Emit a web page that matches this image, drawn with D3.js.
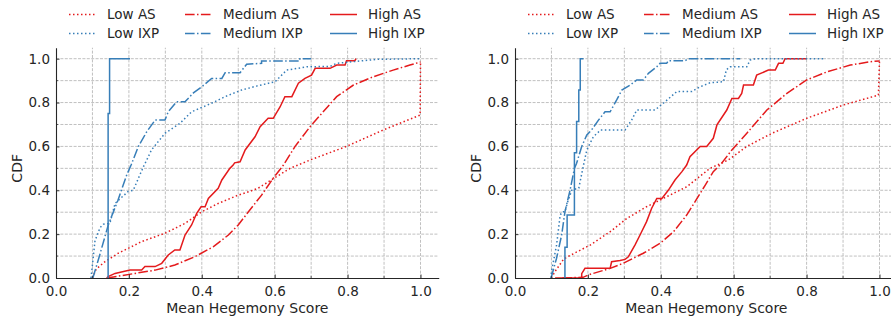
<!DOCTYPE html>
<html><head><meta charset="utf-8">
<script src="https://cdn.jsdelivr.net/npm/d3@7"></script>
<style>body{margin:0;background:#fff}svg{display:block}text{font-family:"DejaVu Sans",sans-serif;fill:#262626}</style>
</head><body><svg id="c" width="891" height="320"></svg>
<script>
// ---- data ----
const xTicks = [0, 0.2, 0.4, 0.6, 0.8, 1.0];
const yTicks = [0, 0.2, 0.4, 0.6, 0.8, 1.0];
const gridVals = [0.1,0.2,0.3,0.4,0.5,0.6,0.7,0.8,0.9,1.0];
const seriesNames = ["Low AS","Medium AS","High AS","Low IXP","Medium IXP","High IXP"];

// Left panel
const L_lowAS = [[0.1,0],[0.11,0.04],[0.134,0.074],[0.171,0.113],[0.235,0.166],[0.299,0.204],[0.354,0.249],[0.4,0.302],[0.445,0.34],[0.5,0.378],[0.532,0.395],[0.555,0.41],[0.605,0.462],[0.642,0.5],[0.697,0.538],[0.797,0.6],[0.898,0.675],[0.999,0.743],[1.0,0.986]];
const L_medAS = [[0.14,0],[0.162,0.006],[0.217,0.021],[0.272,0.036],[0.326,0.059],[0.381,0.097],[0.432,0.143],[0.473,0.196],[0.5,0.242],[0.528,0.302],[0.564,0.378],[0.596,0.455],[0.624,0.515],[0.656,0.6],[0.697,0.69],[0.733,0.758],[0.77,0.827],[0.816,0.88],[0.871,0.918],[0.925,0.948],[0.971,0.971],[1.0,0.985]];
const L_highAS = [[0.139,0],[0.143,0.006],[0.162,0.021],[0.203,0.036],[0.235,0.036],[0.244,0.052],[0.272,0.052],[0.29,0.067],[0.308,0.105],[0.326,0.128],[0.34,0.128],[0.354,0.196],[0.372,0.242],[0.386,0.295],[0.398,0.325],[0.409,0.325],[0.418,0.363],[0.445,0.409],[0.455,0.447],[0.477,0.5],[0.486,0.515],[0.49,0.525],[0.505,0.53],[0.519,0.584],[0.546,0.644],[0.56,0.69],[0.582,0.728],[0.596,0.728],[0.615,0.781],[0.628,0.827],[0.647,0.827],[0.665,0.888],[0.683,0.91],[0.701,0.925],[0.711,0.956],[0.752,0.956],[0.77,0.971],[0.793,0.971],[0.797,0.991],[0.82,0.991],[0.823,1.0]];
const L_lowIXP = [[0.096,0],[0.1,0.06],[0.107,0.17],[0.121,0.23],[0.13,0.245],[0.148,0.25],[0.162,0.34],[0.198,0.395],[0.212,0.4],[0.23,0.47],[0.242,0.515],[0.249,0.538],[0.262,0.584],[0.299,0.66],[0.34,0.705],[0.372,0.758],[0.427,0.797],[0.464,0.827],[0.509,0.857],[0.55,0.875],[0.601,0.895],[0.633,0.948],[0.688,0.963],[0.752,0.965],[0.77,0.979],[0.88,0.997],[1.0,1.0]];
const L_medIXP = [[0.1,0],[0.102,0.005],[0.12,0.105],[0.143,0.24],[0.17,0.355],[0.194,0.47],[0.206,0.515],[0.226,0.6],[0.249,0.667],[0.272,0.72],[0.299,0.72],[0.308,0.758],[0.331,0.804],[0.354,0.804],[0.377,0.844],[0.4,0.872],[0.427,0.91],[0.455,0.91],[0.464,0.936],[0.505,0.936],[0.523,0.975],[0.564,0.979],[0.564,0.99],[0.669,0.99],[0.669,1.0],[0.70,1.0]];
const L_highIXP = [[0.143,0],[0.143,0.75],[0.147,0.75],[0.147,1.0],[0.203,1.0]];

// Right panel
const R_lowAS = [[0.1,0],[0.11,0.03],[0.133,0.085],[0.142,0.095],[0.206,0.15],[0.261,0.211],[0.307,0.272],[0.361,0.325],[0.407,0.363],[0.471,0.416],[0.535,0.5],[0.585,0.538],[0.636,0.6],[0.705,0.66],[0.8,0.728],[0.901,0.789],[0.997,0.834],[1.0,0.99]];
const R_medAS = [[0.13,0],[0.187,0.003],[0.201,0.014],[0.261,0.044],[0.297,0.067],[0.352,0.113],[0.398,0.158],[0.435,0.211],[0.471,0.287],[0.494,0.348],[0.522,0.424],[0.544,0.485],[0.567,0.523],[0.595,0.584],[0.636,0.66],[0.691,0.766],[0.746,0.842],[0.8,0.903],[0.856,0.94],[0.92,0.971],[0.974,0.986],[1.0,0.99]];
const R_highAS = [[0.11,0],[0.183,0],[0.183,0.02],[0.192,0.044],[0.261,0.044],[0.265,0.074],[0.288,0.08],[0.302,0.085],[0.311,0.097],[0.329,0.15],[0.343,0.196],[0.361,0.257],[0.375,0.318],[0.389,0.363],[0.403,0.363],[0.421,0.401],[0.439,0.447],[0.458,0.485],[0.471,0.515],[0.48,0.553],[0.508,0.6],[0.526,0.6],[0.544,0.637],[0.554,0.698],[0.581,0.766],[0.595,0.819],[0.613,0.819],[0.622,0.842],[0.627,0.88],[0.654,0.88],[0.663,0.925],[0.695,0.948],[0.714,0.948],[0.723,0.979],[0.735,0.979],[0.741,1.0],[0.8,1.0]];
const R_lowIXP = [[0.099,0],[0.1,0.029],[0.114,0.15],[0.124,0.287],[0.13,0.302],[0.137,0.302],[0.145,0.35],[0.156,0.401],[0.175,0.41],[0.188,0.515],[0.197,0.584],[0.215,0.644],[0.235,0.675],[0.302,0.675],[0.32,0.72],[0.334,0.766],[0.384,0.766],[0.407,0.797],[0.444,0.85],[0.485,0.85],[0.508,0.872],[0.535,0.89],[0.572,0.895],[0.58,0.95],[0.59,0.963],[0.636,0.963],[0.645,0.994],[0.66,1.0],[0.851,1.0]];
const R_medIXP = [[0.1,0],[0.1,0.006],[0.114,0.09],[0.128,0.196],[0.137,0.302],[0.151,0.4],[0.163,0.5],[0.169,0.523],[0.183,0.6],[0.197,0.652],[0.21,0.675],[0.229,0.72],[0.247,0.758],[0.261,0.758],[0.279,0.812],[0.293,0.857],[0.316,0.88],[0.334,0.903],[0.352,0.903],[0.366,0.933],[0.389,0.963],[0.398,0.979],[0.416,0.979],[0.421,0.991],[0.467,0.991],[0.475,1.0],[0.618,1.0]];
const R_highIXP = [[0.137,0],[0.137,0.14],[0.143,0.14],[0.143,0.287],[0.163,0.287],[0.163,0.571],[0.169,0.571],[0.169,0.714],[0.175,0.714],[0.175,0.857],[0.179,0.857],[0.179,1.0],[0.188,1.0]];

// ---- drawing ----
const RED = "#e41a1c", BLUE = "#377eb8";
const styles = [
  {color: RED, dash: "1.5,2.5"},
  {color: RED, dash: "9.6,2.4,1.5,2.4"},
  {color: RED, dash: null},
  {color: BLUE, dash: "1.5,2.5"},
  {color: BLUE, dash: "9.6,2.4,1.5,2.4"},
  {color: BLUE, dash: null}
];
const svg = d3.select("#c");

function panel(left, data) {
  const unitX = 364.5, unitY = 219.3, y0 = 278;
  const x = d3.scaleLinear().domain([0, 1.05]).range([left, left + 1.05 * unitX]);
  const y = d3.scaleLinear().domain([0, 1.05]).range([y0, y0 - 1.05 * unitY]);
  const g = svg.append("g");
  // grid
  g.selectAll(".gx").data(gridVals).join("line")
    .attr("x1", d => x(d)).attr("x2", d => x(d)).attr("y1", y(0)).attr("y2", y(1.05))
    .attr("stroke", "#b0b0b0").attr("stroke-width", 0.8).attr("stroke-dasharray", "3,1.4");
  g.selectAll(".gy").data(gridVals).join("line")
    .attr("y1", d => y(d)).attr("y2", d => y(d)).attr("x1", x(0)).attr("x2", x(1.05))
    .attr("stroke", "#b0b0b0").attr("stroke-width", 0.8).attr("stroke-dasharray", "3,1.4");
  // lines
  const line = d3.line().x(d => x(d[0])).y(d => y(d[1]));
  data.forEach((s, i) => {
    g.append("path").attr("d", line(s)).attr("fill", "none")
      .attr("stroke", styles[i].color).attr("stroke-width", 1.5)
      .attr("stroke-dasharray", styles[i].dash);
  });
  // axes
  const ax = d3.axisBottom(x).tickValues(xTicks).tickFormat(d3.format(".1f")).tickSizeInner(-3.5).tickSizeOuter(0).tickPadding(6);
  const gx = g.append("g").attr("transform", `translate(0,${y0})`).call(ax);
  const ay = d3.axisLeft(y).tickValues(yTicks).tickFormat(d3.format(".1f")).tickSizeInner(-3.5).tickSizeOuter(0).tickPadding(6);
  const gy = g.append("g").attr("transform", `translate(${left},0)`).call(ay);
  [gx, gy].forEach(a => {
    a.select(".domain").attr("stroke", "#262626").attr("stroke-width", 1.1);
    a.selectAll(".tick line").attr("stroke", "#262626").attr("stroke-width", 0.9);
    a.selectAll("text").attr("font-size", 13.5).attr("font-family", "DejaVu Sans").attr("fill", "#262626");
  });
  gx.selectAll("text").attr("dy", "0.9em");
  // minor ticks
  const minor = [0.1,0.3,0.5,0.7,0.9];
  g.selectAll(".mx").data(minor).join("line")
    .attr("x1", d => x(d)).attr("x2", d => x(d)).attr("y1", y0).attr("y2", y0 - 2)
    .attr("stroke", "#262626").attr("stroke-width", 0.7);
  g.selectAll(".my").data(minor).join("line")
    .attr("y1", d => y(d)).attr("y2", d => y(d)).attr("x1", left).attr("x2", left + 2)
    .attr("stroke", "#262626").attr("stroke-width", 0.7);
  // axis labels
  g.append("text").attr("x", (x(0) + x(1.05)) / 2).attr("y", 313).attr("text-anchor", "middle")
    .attr("font-size", 14).text("Mean Hegemony Score");
  g.append("text").attr("transform", `translate(${left - 39},${y(0.5)}) rotate(-90)`)
    .attr("text-anchor", "middle").attr("dy", "0.35em").attr("font-size", 14).text("CDF");
  // legend
  const colX = [13, 129, 274], rowY = [14.5, 33.5];
  seriesNames.forEach((name, i) => {
    const c = i % 3, r = Math.floor(i / 3);
    const lx = left + colX[c], ly = rowY[r];
    g.append("line").attr("x1", lx).attr("x2", lx + 27).attr("y1", ly).attr("y2", ly)
      .attr("stroke", styles[i].color).attr("stroke-width", 1.5).attr("stroke-dasharray", styles[i].dash);
    g.append("text").attr("x", lx + 38).attr("y", ly).attr("dy", "0.36em").attr("font-size", 13.5).text(name);
  });
}
panel(56, [L_lowAS, L_medAS, L_highAS, L_lowIXP, L_medIXP, L_highIXP]);
panel(515, [R_lowAS, R_medAS, R_highAS, R_lowIXP, R_medIXP, R_highIXP]);
</script></body></html>
